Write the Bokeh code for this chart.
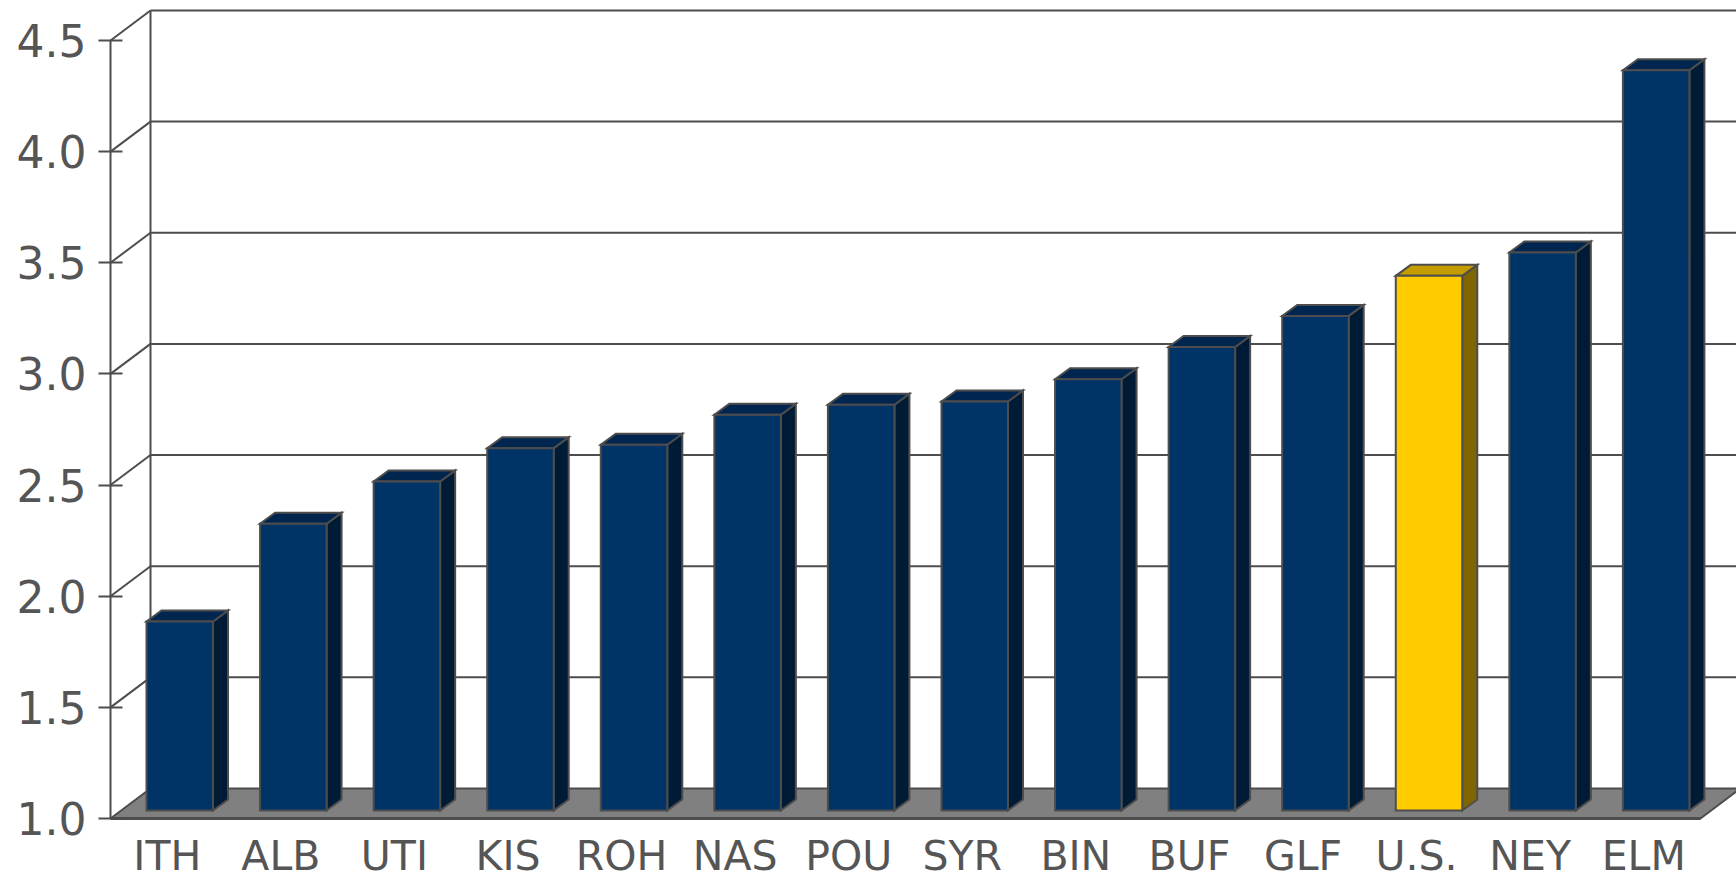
from bokeh.plotting import figure
from bokeh.models import ColumnDataSource, FixedTicker, PrintfTickFormatter, Range1d
from bokeh.embed import file_html
from bokeh.resources import INLINE
from bokeh.core.properties import value

# ---- data ----
categories = ["ITH", "ALB", "UTI", "KIS", "ROH", "NAS", "POU", "SYR",
              "BIN", "BUF", "GLF", "U.S.", "NEY", "ELM"]
values = [1.85, 2.29, 2.48, 2.63, 2.645, 2.78, 2.825, 2.84,
          2.94, 3.085, 3.225, 3.405, 3.51, 4.33]
highlight = "U.S."
yticks = [1.0, 1.5, 2.0, 2.5, 3.0, 3.5, 4.0, 4.5]

# ---- colours ----
NAVY_FRONT, NAVY_SIDE, NAVY_TOP = "#003366", "#001b36", "#002650"
GOLD_FRONT, GOLD_SIDE, GOLD_TOP = "#ffcc00", "#806600", "#c49c00"
EDGE = "#4d4d4d"
TEXT = "#555555"
FONT = "DejaVu Sans"

# ---- geometry (pixel scale of the plot) ----
SX = 113.57   # px per category
SY = 222.3    # px per value unit
LEFT = 104
FRAME_W, FRAME_H = 1736 - LEFT, 878
X0 = -0.5 - 6 / SX
X1 = X0 + FRAME_W / SX
Y1 = 1.0 + 818 / SY
Y0 = Y1 - FRAME_H / SY

def px_x(px):
    return px / SX

def px_y(px):
    return px / SY

WDX, WDY = px_x(40), px_y(30)       # depth of the whole box
BDX0, BDY0 = px_x(10.7), px_y(8)    # bar front plane offset
BDX, BDY = px_x(15), px_y(11)       # bar depth
BAR_L = px_x(25.3)                  # bar front left inside category
BAR_W = px_x(66.5)

n = len(categories)
ymin, ymax = yticks[0], yticks[-1]

p = figure(frame_width=FRAME_W, frame_height=FRAME_H,
           x_range=Range1d(X0, X1), y_range=Range1d(Y0, Y1),
           output_backend="svg", toolbar_location=None,
           min_border_left=LEFT, min_border_right=0,
           min_border_top=0, min_border_bottom=0,
           outline_line_color=None, background_fill_color="white")
p.xaxis.visible = False
p.grid.visible = False

# back wall grid lines + diagonals
gx0, gy0, gx1, gy1 = [], [], [], []
for t in yticks[1:]:
    gx0.append(-0.5 + WDX); gy0.append(t + WDY); gx1.append(X1 + 1); gy1.append(t + WDY)
    gx0.append(-0.5); gy0.append(t); gx1.append(-0.5 + WDX); gy1.append(t + WDY)
# back wall vertical and front axis line
gx0.append(-0.5 + WDX); gy0.append(ymin + WDY); gx1.append(-0.5 + WDX); gy1.append(ymax + WDY)
gx0.append(-0.5); gy0.append(ymin); gx1.append(-0.5); gy1.append(ymax)
p.segment(gx0, gy0, gx1, gy1, line_color=EDGE, line_width=2)

# floor
p.patch([-0.5, n - 0.5, n - 0.5 + WDX, -0.5 + WDX],
        [ymin, ymin, ymin + WDY, ymin + WDY],
        fill_color="#808080", line_color=EDGE, line_width=2)
p.segment([-0.5], [ymin], [n - 0.5], [ymin], line_color=EDGE, line_width=3)

# bars
fx, fy, fc = [], [], []
sxs, sys_, sc = [], [], []
txs, tys, tc = [], [], []
for i, (c, v) in enumerate(zip(categories, values)):
    hl = c == highlight
    l = i - 0.5 + BDX0 + BAR_L
    r = l + BAR_W
    b = ymin + BDY0
    t = v + BDY0
    fx.append([l, r, r, l]); fy.append([b, b, t, t])
    fc.append(GOLD_FRONT if hl else NAVY_FRONT)
    sxs.append([r, r + BDX, r + BDX, r]); sys_.append([b, b + BDY, t + BDY, t])
    sc.append(GOLD_SIDE if hl else NAVY_SIDE)
    txs.append([l, r, r + BDX, l + BDX]); tys.append([t, t, t + BDY, t + BDY])
    tc.append(GOLD_TOP if hl else NAVY_TOP)

p.patches(sxs, sys_, fill_color=sc, line_color=EDGE, line_width=2, line_join="miter")
p.patches(txs, tys, fill_color=tc, line_color=EDGE, line_width=2, line_join="miter")
p.patches(fx, fy, fill_color=fc, line_color=EDGE, line_width=2, line_join="miter")

# category labels
src = ColumnDataSource(dict(x=list(range(n)), y=[ymin] * n, t=categories))
p.text(x="x", y="y", text="t", source=src, text_align="center",
       text_baseline="middle", y_offset=37,
       text_font=value(FONT), text_font_size="41px", text_color=TEXT)

# y axis
ax = p.yaxis[0]
ax.ticker = FixedTicker(ticks=yticks)
ax.formatter = PrintfTickFormatter(format="%.1f")
ax.axis_line_color = None
ax.major_tick_out = 6
ax.major_tick_in = 18
ax.minor_tick_line_color = None
ax.major_tick_line_color = EDGE
ax.major_tick_line_width = 2
ax.major_label_standoff = 12
ax.major_label_text_font = FONT
ax.major_label_text_font_size = "44px"
ax.major_label_text_color = TEXT

open("out.html", "w").write(file_html(p, INLINE))
